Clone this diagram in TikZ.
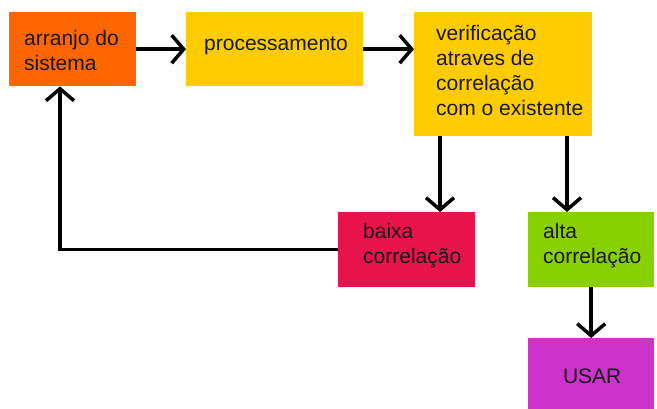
\documentclass[tikz,border=0pt]{standalone}
\usepackage{fontspec}
\setmainfont{Liberation Sans}
\usetikzlibrary{arrows.meta,calc}
\definecolor{cOrange}{HTML}{FF6600}
\definecolor{cYellow}{HTML}{FFCC00}
\definecolor{cRed}{HTML}{E8134A}
\definecolor{cGreen}{HTML}{88D000}
\definecolor{cMag}{HTML}{CC33CC}
\begin{document}
\begin{tikzpicture}[x=1pt,y=-1pt,
  boxx/.style={draw=none,inner sep=0pt,anchor=north west},
  lbl/.style={inner sep=0pt,anchor=west,align=left,font=\fontsize{21}{25}\selectfont,text=black!90},
  arr/.style={line width=3.5pt,-{Straight Barb[length=12pt,width=28pt]}}]
\useasboundingbox (0,0) rectangle (657,409);
% boxes
\node[boxx,fill=cOrange,minimum width=127pt,minimum height=74pt] (b1) at (9,12) {};
\node[boxx,fill=cYellow,minimum width=177pt,minimum height=74pt] (b2) at (186,12) {};
\node[boxx,fill=cYellow,minimum width=178pt,minimum height=124pt] (b3) at (414,12) {};
\node[boxx,fill=cRed,minimum width=137pt,minimum height=75pt] (b4) at (338,212) {};
\node[boxx,fill=cGreen,minimum width=126pt,minimum height=75pt] (b5) at (528,212) {};
\node[boxx,fill=cMag,minimum width=126pt,minimum height=71pt] (b6) at (528,338) {};
% texts
\node[lbl] (t1) at ($(b1.west)+(15,1)$) {arranjo do\\sistema};
\node[lbl] (t2) at ($(b2.west)+(18,-3)$) {processamento};
\node[lbl] (t3) at ($(b3.west)+(22,-4)$) {verificação\\atraves de\\correlação\\com o existente};
\node[lbl] (t4) at ($(b4.west)+(25,-4)$) {baixa\\correlação};
\node[lbl] (t5) at ($(b5.west)+(15,-4)$) {alta\\correlação};
\node[lbl,anchor=center] (t6) at ($(b6.center)+(1,3)$) {USAR};
% connectors
\coordinate (c3a) at ($(b3.south west)+(26,0)$);
\coordinate (c3b) at ($(b3.south west)+(153,0)$);
\coordinate (c1) at ($(b1.south west)+(51,0)$);
\draw[arr] (b1.east) -- (b2.west);
\draw[arr] (b2.east) -- (b2.east -| b3.west);
\draw[arr] (c3a) -- (c3a |- b4.north);
\draw[arr] (c3b) -- (c3b |- b5.north);
\draw[arr] (b5.south) -- (b6.north);
\draw[arr] (b4.west) -| (c1);
\end{tikzpicture}
\end{document}
